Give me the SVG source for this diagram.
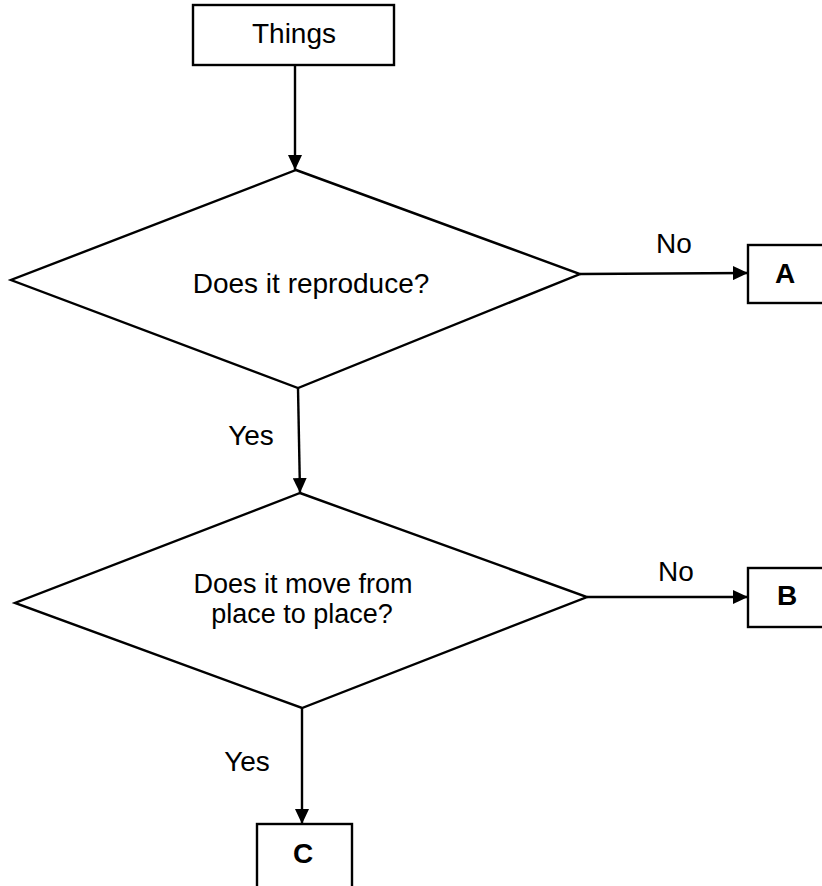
<svg xmlns="http://www.w3.org/2000/svg" width="822" height="886" viewBox="0 0 822 886">
<style>
.shape{fill:#fff;stroke:#000;stroke-width:2.4}
.conn{fill:none;stroke:#000;stroke-width:2.4}
text{font-family:"Liberation Sans",Arial,sans-serif;font-size:28px;fill:#000}
.b{font-weight:bold}
.q2{font-size:27px}
</style>
<defs>
<marker id="arr" markerUnits="userSpaceOnUse" markerWidth="16" markerHeight="14" refX="15" refY="7" orient="auto">
<path d="M0,0 L15,7 L0,14 Z" fill="#000"/>
</marker>
</defs>
<rect width="822" height="886" fill="#fff"/>
<g id="connectors">
<line class="conn" x1="295" y1="65" x2="295" y2="170" marker-end="url(#arr)"/>
<line class="conn" x1="580" y1="274" x2="748" y2="273" marker-end="url(#arr)"/>
<line class="conn" x1="298" y1="388" x2="300" y2="493" marker-end="url(#arr)"/>
<line class="conn" x1="587" y1="597" x2="748" y2="597" marker-end="url(#arr)"/>
<line class="conn" x1="302" y1="708" x2="302" y2="824" marker-end="url(#arr)"/>
<text x="674" y="253" text-anchor="middle">No</text>
<text x="676" y="581" text-anchor="middle">No</text>
<text x="251" y="445" text-anchor="middle">Yes</text>
<text x="247" y="771" text-anchor="middle">Yes</text>
</g>
<g id="things">
<rect class="shape" x="193" y="5" width="201" height="60"/>
<text x="294" y="43" text-anchor="middle">Things</text>
</g>
<g id="reproduce">
<polygon class="shape" points="296,170 580,274 298,388 11,280"/>
<text x="311" y="293" text-anchor="middle">Does it reproduce?</text>
</g>
<g id="move">
<polygon class="shape" points="300,493 587,597 302,708 15,603"/>
<text class="q2" x="303" y="593" text-anchor="middle">Does it move from</text>
<text class="q2" x="302" y="623" text-anchor="middle">place to place?</text>
</g>
<g id="A">
<rect class="shape" x="748" y="245" width="90" height="58"/>
<text class="b" x="785" y="283" text-anchor="middle">A</text>
</g>
<g id="B">
<rect class="shape" x="748" y="568" width="90" height="59"/>
<text class="b" x="787" y="605" text-anchor="middle">B</text>
</g>
<g id="C">
<rect class="shape" x="257" y="824" width="95" height="80"/>
<text class="b" x="303" y="863" text-anchor="middle">C</text>
</g>
</svg>
